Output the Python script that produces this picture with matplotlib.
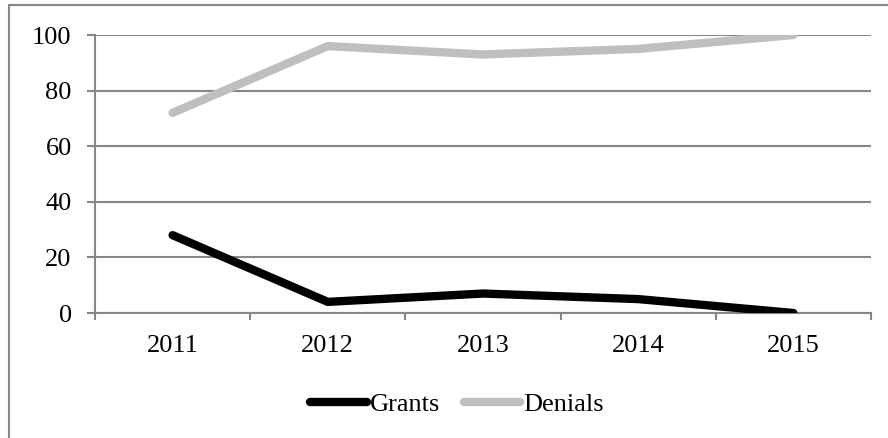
import matplotlib.pyplot as plt
from matplotlib.patches import Rectangle

years = ['2011', '2012', '2013', '2014', '2015']
grants = [28, 4, 7, 5, 0]
denials = [72, 96, 93, 95, 100]

plt.rcParams['font.family'] = ['Liberation Serif', 'DejaVu Serif']
grid_col = '#878787'

fig = plt.figure(figsize=(8.88, 4.38), dpi=100)
W, H = 888, 438
ax = fig.add_axes([95 / W, 1 - 313 / H, 776 / W, 278 / H])

x = range(len(years))
ax.plot(x, grants, color='black', lw=6, solid_capstyle='round',
        solid_joinstyle='round', label='Grants', zorder=3)
ax.plot(x, denials, color='#bfbfbf', lw=6, solid_capstyle='round',
        solid_joinstyle='round', label='Denials', zorder=3)

ax.set_xlim(-0.5, len(years) - 0.5)
ax.set_ylim(0, 100)
ax.set_yticks(range(0, 101, 20))
ax.yaxis.grid(True, color=grid_col, lw=1.5)
ax.set_axisbelow(True)

# category labels centred, tick marks between categories
ax.set_xticks(list(x))
ax.set_xticklabels(years)
ax.set_xticks([i - 0.5 for i in range(len(years) + 1)], minor=True)
ax.tick_params(axis='x', which='major', length=0, pad=16, labelsize=19)
ax.tick_params(axis='x', which='minor', length=5, width=1.5, color=grid_col)
ax.tick_params(axis='y', length=5.8, width=1.5, color=grid_col, pad=11, labelsize=19)

for s in ['top', 'right']:
    ax.spines[s].set_visible(False)
for s in ['left', 'bottom']:
    ax.spines[s].set_color(grid_col)
    ax.spines[s].set_linewidth(1.5)

leg = fig.legend(loc='center', bbox_to_anchor=(457 / W, 1 - 404 / H), ncol=2,
                 frameon=False, fontsize=19, handlelength=2.15,
                 handletextpad=0.1, columnspacing=0.9)

# outer chart frame (runs off the right and bottom edges)
fig.patches.append(Rectangle((9 / W, -0.05), 1.0, 1 - 5 / H + 0.05,
                             transform=fig.transFigure, fill=False,
                             edgecolor=grid_col, lw=1.5))

fig.savefig('out.png', dpi=100)
